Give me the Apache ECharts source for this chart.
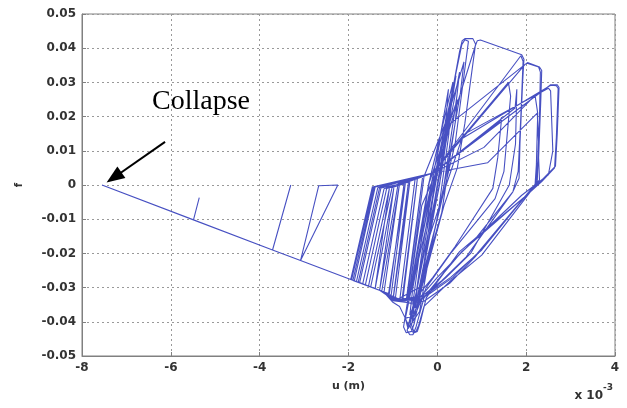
<!DOCTYPE html>
<html><head><meta charset="utf-8">
<style>html,body{margin:0;padding:0;background:#fff}#c{width:627px;height:408px}</style>
<script src="https://cdn.jsdelivr.net/npm/echarts@6/dist/echarts.min.js"></script>
</head><body><div id="c"></div>
<script>
// u in units of 1e-3 m, f dimensionless
const earlyCycles = [
  [0,0],[0.12,0.0095],[0.08,0.006],[-0.12,-0.0095],[-0.08,-0.006],
  [0.22,0.0175],[0.15,0.012],[-0.2,-0.016],[-0.14,-0.011],
  [0.32,0.025],[0.24,0.019],[-0.3,-0.024],[-0.22,-0.018],
  [0.42,0.032],[0.3,0.022],[0.1,0.004],[-0.4,-0.031],[-0.3,-0.023],[-0.1,-0.004]
];
const peakCycles = [
  [0.5,0.039],[0.56,0.0422],[0.62,0.0428],[0.8,0.0428],[0.86,0.0412],[0.62,0.018],[0.45,0.005],[0.15,-0.006],
  [-0.35,-0.03],[-0.52,-0.0405],[-0.58,-0.0428],[-0.7,-0.0432],[-0.76,-0.0415],[-0.55,-0.024],[-0.35,-0.006],[-0.05,0.003],
  [0.85,0.0405],[0.9,0.0422],[0.97,0.0424],[1.9,0.0381],[1.95,0.0368],[1.92,0.03],[1.86,0.012],[1.84,0.002],[1.7,-0.002],
  [0.9,-0.015],[0.3,-0.023],[-0.3,-0.033],[-0.48,-0.0415],[-0.55,-0.0438],[-0.62,-0.0438],[-0.68,-0.0425],
  [-0.45,-0.03],[0.15,0.0165],
  [1.97,0.0352],[2.03,0.0358],[2.3,0.0345],[2.35,0.0335],[2.33,0.025],[2.28,0.008],[2.3,0.0015],
  [1.0,-0.0205],[0.3,-0.028],[-0.3,-0.0355],[-0.42,-0.041],[-0.48,-0.0428],[-0.56,-0.043],[-0.62,-0.041],
  [-0.3,-0.02],[0.2,0.0],[0.55,0.0135],
  [2.48,0.0286],[2.55,0.0293],[2.7,0.0293],[2.74,0.0285],[2.7,0.015],[2.66,0.0055],[2.05,-0.0025],[0.5,-0.0195],[0.04,-0.0276],
  [-0.25,-0.033],[-0.38,-0.04],[-0.45,-0.0428],[-0.52,-0.0432],[-0.58,-0.041],
  [-0.35,-0.02],[-0.15,-0.004],[0.0,0.0045],[1.75,0.0225],[1.79,0.028],[1.76,0.012],[1.62,0.0],[0.75,-0.02],[0.2,-0.027],
  [-0.4,-0.034],[-0.6,-0.0395],[-0.66,-0.0408],[-0.72,-0.039],
  [0.55,0.041],[0.62,0.0425],[0.7,0.042],[0.4,0.012],[0.0,-0.01],[-0.55,-0.04],[-0.66,-0.0415],[-0.72,-0.039]
];
const innerCycles = [
  [-0.2,0.0],[0.35,0.03],[0.3,0.024],[0.05,0.0],[-0.5,-0.036],[-0.45,-0.03],[0.1,0.006],[0.5,0.033],[0.44,0.026],
  [0.15,0.0],[-0.3,-0.028],[-0.62,-0.038],[-0.55,-0.03],[-0.1,0.002],[0.25,0.028],[0.2,0.02],[-0.1,-0.004],
  [-0.7,-0.037],[-0.3,-0.01],[0.05,0.012],[0.6,0.036],[0.52,0.027],[0.2,0.003],[-0.2,-0.022],[-0.4,-0.037],
  [-0.66,-0.042],[-0.72,-0.039],
  [-0.15,0.003],[1.6,0.03],[1.65,0.026],[1.5,0.004],[1.3,-0.004],[0.3,-0.02],[-0.25,-0.03],[-0.5,-0.038],[-0.72,-0.039]
];
const lateCyclesA = [
  [-0.85,-0.0355],[-1.0,-0.0343],[-1.16,-0.032],[-1.3,-0.0308],[-0.88,0.0005],[-0.1,0.0035],
  [1.4,0.0185],[1.45,0.0198],[1.36,0.008],[1.25,-0.001],[0.4,-0.018],[-0.1,-0.027],[-0.55,-0.034],[-0.65,-0.0334],
  [-0.3,0.0025],[0.3,0.022],[0.26,0.015],[0.0,-0.01],[-0.4,-0.03],[-0.95,-0.0338]
];
const fanCycles = [
  [-1.0,-0.0338],[-0.62,0.0009],[-0.95,-0.0337],[-1.1,-0.032],[-0.72,0.0005],[-1.05,-0.0333],[-0.8,-0.034],
  [-0.45,0.0018],[-0.78,-0.034],[-0.68,-0.0336],[-0.33,0.0025],[-0.7,-0.0337],[-0.9,-0.0335],[-1.2,-0.0313],
  [-1.55,-0.0296],[-1.08,-0.001],[-1.4,-0.0303],[-0.98,-0.0009],[-1.3,-0.0308],[-1.25,-0.031],[-0.85,0.0004],[-1.2,-0.0313]
];
const lateCyclesB = [
  [-1.5,-0.0298],[-1.02,-0.0008],[-0.1,0.0035],
  [1.97,0.0352],[2.02,0.0356],[2.28,0.0345],[2.32,0.033],[2.3,0.02],[2.26,0.007],[2.22,0.0005],
  [0.9,-0.02],[0.35,-0.027],[-0.2,-0.032],[-0.55,-0.0345],
  [-0.2,0.0],[0.45,0.025],[0.4,0.018],[0.1,-0.008],[-0.5,-0.035],[-0.9,-0.0335],
  [-1.2,-0.0313],[-1.62,-0.0292],[-1.14,-0.001],[-0.75,0.0003],[-1.08,-0.0318],[-1.2,-0.0313],[-1.68,-0.0289],[-1.2,-0.0011],[-0.1,0.0035],
  [1.05,0.011],[2.2,0.0262],[2.26,0.021],[2.23,0.006],[2.2,0.0],[0.85,-0.021],[0.3,-0.0285],[-0.3,-0.034],[-0.6,-0.0345],
  [-1.0,-0.0338],[-1.2,-0.0313],[-1.75,-0.0286],[-1.27,-0.0009],[-0.65,0.0008],[-1.0,-0.0335],[-1.2,-0.0313],[-1.78,-0.0284],[-1.3,-0.0008],[-0.1,0.0035],
  [1.88,0.0378],[1.93,0.0362],[1.88,0.02],[1.82,0.004],[1.7,-0.002],[0.65,-0.021],[0.1,-0.028],[-0.45,-0.0335],[-0.9,-0.0335],
  [-1.2,-0.0313],[-1.82,-0.0282],[-1.34,-0.0008],[-0.1,0.0035],
  [2.5,0.0288],[2.56,0.0292],[2.68,0.029],[2.72,0.0282],[2.68,0.014],[2.64,0.005],[2.35,0.001],[2.05,-0.0025],[0.55,-0.0195],[0.0,-0.028],[-0.35,-0.0335],[-0.8,-0.0338],
  [-1.2,-0.0313],[-1.87,-0.028],[-1.4,-0.0006],[-0.5,0.0018],[-0.85,-0.034],[-1.2,-0.0313],[-1.9,-0.0279],[-1.42,-0.0006],[-0.1,0.0035],
  [1.13,0.0065],[2.25,0.021],[2.28,0.012],[2.25,0.001],[1.0,-0.019],[0.3,-0.027],[-0.3,-0.0325],[-0.9,-0.0335],
  [-1.2,-0.0313],[-1.93,-0.0277],[-1.44,-0.0005],[-0.1,0.0035],
  [0.6,0.0148],[2.5,0.0283],[2.55,0.0275],[2.6,0.01],[2.5,0.003],[1.9,-0.003],[0.6,-0.019],[0.0,-0.027],[-0.4,-0.033],[-0.9,-0.0335],[-1.2,-0.0313]
];
const collapseBranch = [
  [-1.95,-0.0276],[-1.46,-0.0004],[-1.95,-0.0276],
  [-3.08,-0.0221],[-2.67,-0.0002],[-2.24,0.0],[-3.08,-0.0221],
  [-3.71,-0.019],[-3.3,0.0],[-3.71,-0.019],
  [-5.49,-0.0102],[-5.36,-0.0037],[-5.49,-0.0102],
  [-7.55,0.0]
];
const arrowFrom = [-6.13, 0.0126];
const arrowTo = [-7.28, 0.0022];
const annotationText = 'Collapse';
const xAxisTitle = 'u (m)';
const yAxisTitle = 'f';

const path = [].concat(earlyCycles, peakCycles, innerCycles, lateCyclesA, fanCycles, lateCyclesB, collapseBranch);
const labelFont = {fontFamily:'DejaVu Sans', fontSize:12, fontWeight:'bold', color:'#333'};

const chart = echarts.init(document.getElementById('c'));
chart.setOption({
  animation:false,
  backgroundColor:'#fff',
  grid:{left:82,right:12,top:14,bottom:52,show:true,borderColor:'#808080',borderWidth:1,backgroundColor:'#fff'},
  xAxis:{type:'value',min:-8,max:4,interval:2,
    name:xAxisTitle,nameLocation:'middle',nameGap:25,
    nameTextStyle:{fontFamily:'DejaVu Sans',fontSize:11,fontWeight:'bold',color:'#333'},
    axisLine:{show:true,onZero:false,lineStyle:{color:'#808080'}},
    axisTick:{show:true,inside:true,length:4,lineStyle:{color:'#808080'}},
    axisLabel:Object.assign({margin:6},labelFont),
    splitLine:{show:true,lineStyle:{color:'#999',type:[2,3],width:1}}},
  yAxis:{type:'value',min:-0.05,max:0.05,interval:0.01,
    name:yAxisTitle,nameLocation:'middle',nameGap:58,
    nameTextStyle:{fontFamily:'DejaVu Sans',fontSize:10,fontWeight:'bold',color:'#333'},
    axisLine:{show:true,onZero:false,lineStyle:{color:'#808080'}},
    axisTick:{show:true,inside:true,length:4,lineStyle:{color:'#808080'}},
    axisLabel:Object.assign({margin:6,formatter:v=>String(+v.toFixed(2))},labelFont),
    splitLine:{show:true,lineStyle:{color:'#999',type:[2,3],width:1}}},
  series:[{
    type:'line',data:path,showSymbol:false,symbol:'none',
    lineStyle:{color:'#4750c2',width:1.1},
    markLine:{silent:true,animation:false,symbol:['none','triangle'],symbolSize:[14,18],
      lineStyle:{color:'#000',width:2,type:'solid'},label:{show:false},
      data:[[{coord:arrowFrom},{coord:arrowTo}]]}
  }],
  graphic:[
    {type:'text',x:201,y:102,style:{text:annotationText,font:'28px "Liberation Serif"',fill:'#000',align:'center',verticalAlign:'middle'}},
    {type:'text',x:603,y:396,style:{text:'x 10',font:'bold 12px "DejaVu Sans"',fill:'#333',align:'right',verticalAlign:'middle'}},
    {type:'text',x:603,y:388,style:{text:'-3',font:'bold 9px "DejaVu Sans"',fill:'#333',align:'left',verticalAlign:'middle'}}
  ]
});
</script></body></html>
